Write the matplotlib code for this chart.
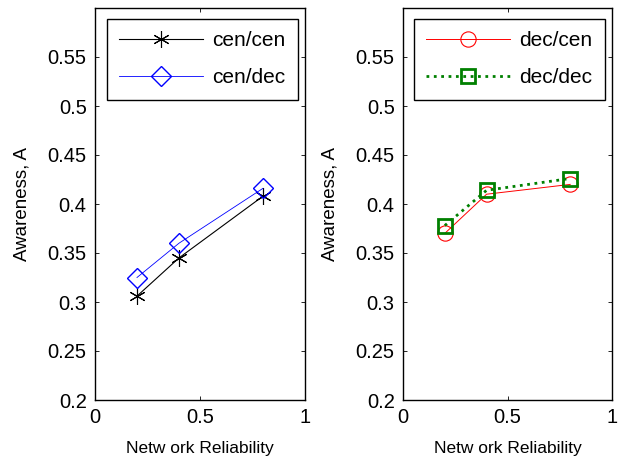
import matplotlib
matplotlib.use('Agg')
import matplotlib.pyplot as plt

# 数据
x = [0.2, 0.4, 0.8]
cen_cen = [0.306, 0.345, 0.408]
cen_dec = [0.325, 0.360, 0.416]
dec_cen = [0.370, 0.410, 0.420]
dec_dec = [0.378, 0.414, 0.426]
yticks = [0.2, 0.25, 0.3, 0.35, 0.4, 0.45, 0.5, 0.55]
xticks = [0, 0.5, 1]

plt.rcParams['font.family'] = ['Liberation Sans', 'DejaVu Sans']
plt.rcParams['font.size'] = 14.5

fig = plt.figure(figsize=(6.2, 4.62), dpi=100)
ax1 = fig.add_axes([95/620, 1-400/462, 210/620, 392/462])
ax2 = fig.add_axes([403/620, 1-400/462, 209/620, 392/462])

ax1.plot(x, cen_cen, color='black', lw=0.8, marker=(6, 2, 0), ms=12, mew=0.8, label='cen/cen')
ax1.plot(x, cen_dec, color='blue', lw=0.6, marker='D', ms=10, mfc='none', mew=1.0, label='cen/dec')
ax2.plot(x, dec_cen, color='red', lw=0.7, marker='o', ms=11, mfc='none', mew=0.8, label='dec/cen')
ax2.plot(x, dec_dec, color='green', lw=2, ls=':', marker='s', ms=10, mfc='none', mew=2, label='dec/dec')

for ax in (ax1, ax2):
    ax.set_xlim(0, 1)
    ax.set_ylim(0.2, 0.6)
    ax.set_xticks(xticks)
    ax.set_xticklabels(['0', '0.5', '1'])
    ax.set_yticks(yticks)
    ax.set_yticklabels(['0.2', '0.25', '0.3', '0.35', '0.4', '0.45', '0.5', '0.55'])
    ax.tick_params(direction='in', top=True, right=True, length=3, width=0.6, pad=6)
    for s in ax.spines.values():
        s.set_linewidth(1.0)
    ax.set_xlabel('Netw ork Reliability', fontsize=12.5, labelpad=10)
    ax.set_ylabel('Awareness, A', fontsize=13.5, labelpad=12)
    leg = ax.legend(loc='upper right', fancybox=False, edgecolor='black', framealpha=1,
                    handlelength=4.0, borderpad=0.6, labelspacing=0.85, fontsize=15,
                    handletextpad=0.45, borderaxespad=0, bbox_to_anchor=(0.965, 0.972))
    leg.get_frame().set_linewidth(1.0)

fig.savefig('out.png', dpi=100)
